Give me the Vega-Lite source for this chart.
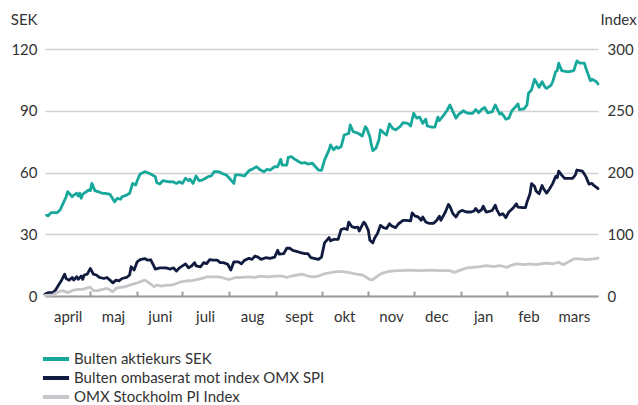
{
"$schema": "https://vega.github.io/schema/vega-lite/v6.json",
"width": 553, "height": 247,
"autosize": {"type": "none"},
"padding": {"left": 45, "top": 49, "right": 40, "bottom": 109},
"config": {"view": {"stroke": null}, "font": "Lato",
  "axis": {"labelFont": "Lato", "labelColor": "#333333", "labelFontSize": 15, "titleFont": "Lato", "titleColor": "#333333", "titleFontSize": 15, "titleFontWeight": "normal"},
  "legend": {"labelFont": "Lato", "labelColor": "#333333", "labelFontSize": 15, "labelLimit": 0}},
"data": {"values": [
{"d":"2023-04-02","s":"Bulten aktiekurs SEK","v":39.3},{"d":"2023-04-03","s":"Bulten aktiekurs SEK","v":38.9},{"d":"2023-04-05","s":"Bulten aktiekurs SEK","v":40.5},{"d":"2023-04-09","s":"Bulten aktiekurs SEK","v":40.5},{"d":"2023-04-11","s":"Bulten aktiekurs SEK","v":41.8},{"d":"2023-04-13","s":"Bulten aktiekurs SEK","v":45},{"d":"2023-04-15","s":"Bulten aktiekurs SEK","v":48.2},{"d":"2023-04-16","s":"Bulten aktiekurs SEK","v":50.7},{"d":"2023-04-19","s":"Bulten aktiekurs SEK","v":48.2},{"d":"2023-04-20","s":"Bulten aktiekurs SEK","v":49},{"d":"2023-04-22","s":"Bulten aktiekurs SEK","v":49.9},{"d":"2023-04-23","s":"Bulten aktiekurs SEK","v":48.6},{"d":"2023-04-24","s":"Bulten aktiekurs SEK","v":49.9},{"d":"2023-04-25","s":"Bulten aktiekurs SEK","v":47.5},{"d":"2023-04-26","s":"Bulten aktiekurs SEK","v":49.5},{"d":"2023-04-30","s":"Bulten aktiekurs SEK","v":51.5},
{"d":"2023-05-01","s":"Bulten aktiekurs SEK","v":51.2},{"d":"2023-05-02","s":"Bulten aktiekurs SEK","v":54.7},{"d":"2023-05-04","s":"Bulten aktiekurs SEK","v":51.2},{"d":"2023-05-06","s":"Bulten aktiekurs SEK","v":50.7},{"d":"2023-05-09","s":"Bulten aktiekurs SEK","v":49.9},{"d":"2023-05-11","s":"Bulten aktiekurs SEK","v":49.9},{"d":"2023-05-14","s":"Bulten aktiekurs SEK","v":49.4},{"d":"2023-05-17","s":"Bulten aktiekurs SEK","v":45.8},{"d":"2023-05-19","s":"Bulten aktiekurs SEK","v":47.5},{"d":"2023-05-21","s":"Bulten aktiekurs SEK","v":47},{"d":"2023-05-22","s":"Bulten aktiekurs SEK","v":48.2},{"d":"2023-05-25","s":"Bulten aktiekurs SEK","v":49},{"d":"2023-05-27","s":"Bulten aktiekurs SEK","v":49.9},{"d":"2023-05-29","s":"Bulten aktiekurs SEK","v":54.7},{"d":"2023-05-31","s":"Bulten aktiekurs SEK","v":53.9},
{"d":"2023-06-01","s":"Bulten aktiekurs SEK","v":56},{"d":"2023-06-03","s":"Bulten aktiekurs SEK","v":59.3},{"d":"2023-06-06","s":"Bulten aktiekurs SEK","v":60.4},{"d":"2023-06-08","s":"Bulten aktiekurs SEK","v":59.9},{"d":"2023-06-09","s":"Bulten aktiekurs SEK","v":59.6},{"d":"2023-06-13","s":"Bulten aktiekurs SEK","v":58},{"d":"2023-06-14","s":"Bulten aktiekurs SEK","v":55},{"d":"2023-06-16","s":"Bulten aktiekurs SEK","v":54.4},{"d":"2023-06-18","s":"Bulten aktiekurs SEK","v":56},{"d":"2023-06-22","s":"Bulten aktiekurs SEK","v":55.5},{"d":"2023-06-25","s":"Bulten aktiekurs SEK","v":55.4},{"d":"2023-06-27","s":"Bulten aktiekurs SEK","v":54.7},{"d":"2023-06-29","s":"Bulten aktiekurs SEK","v":55.5},
{"d":"2023-07-01","s":"Bulten aktiekurs SEK","v":54.7},{"d":"2023-07-03","s":"Bulten aktiekurs SEK","v":57.2},{"d":"2023-07-05","s":"Bulten aktiekurs SEK","v":56},{"d":"2023-07-06","s":"Bulten aktiekurs SEK","v":56.7},{"d":"2023-07-08","s":"Bulten aktiekurs SEK","v":54.7},{"d":"2023-07-10","s":"Bulten aktiekurs SEK","v":58.3},{"d":"2023-07-12","s":"Bulten aktiekurs SEK","v":56},{"d":"2023-07-14","s":"Bulten aktiekurs SEK","v":56.3},{"d":"2023-07-16","s":"Bulten aktiekurs SEK","v":57.1},{"d":"2023-07-18","s":"Bulten aktiekurs SEK","v":58},{"d":"2023-07-20","s":"Bulten aktiekurs SEK","v":58.3},{"d":"2023-07-22","s":"Bulten aktiekurs SEK","v":60.4},{"d":"2023-07-25","s":"Bulten aktiekurs SEK","v":60.4},{"d":"2023-07-27","s":"Bulten aktiekurs SEK","v":59.6},{"d":"2023-07-30","s":"Bulten aktiekurs SEK","v":58.8},
{"d":"2023-08-01","s":"Bulten aktiekurs SEK","v":57.2},{"d":"2023-08-04","s":"Bulten aktiekurs SEK","v":54.7},{"d":"2023-08-05","s":"Bulten aktiekurs SEK","v":58.8},{"d":"2023-08-08","s":"Bulten aktiekurs SEK","v":58.8},{"d":"2023-08-11","s":"Bulten aktiekurs SEK","v":58.3},{"d":"2023-08-14","s":"Bulten aktiekurs SEK","v":60.9},{"d":"2023-08-16","s":"Bulten aktiekurs SEK","v":61.5},{"d":"2023-08-19","s":"Bulten aktiekurs SEK","v":62.8},{"d":"2023-08-21","s":"Bulten aktiekurs SEK","v":61.5},{"d":"2023-08-24","s":"Bulten aktiekurs SEK","v":60.4},{"d":"2023-08-26","s":"Bulten aktiekurs SEK","v":61.5},{"d":"2023-08-28","s":"Bulten aktiekurs SEK","v":61.2},{"d":"2023-08-31","s":"Bulten aktiekurs SEK","v":62.8},
{"d":"2023-09-02","s":"Bulten aktiekurs SEK","v":62.8},{"d":"2023-09-04","s":"Bulten aktiekurs SEK","v":66.4},{"d":"2023-09-05","s":"Bulten aktiekurs SEK","v":63.6},{"d":"2023-09-08","s":"Bulten aktiekurs SEK","v":63.6},{"d":"2023-09-09","s":"Bulten aktiekurs SEK","v":67.4},{"d":"2023-09-11","s":"Bulten aktiekurs SEK","v":67.7},{"d":"2023-09-13","s":"Bulten aktiekurs SEK","v":66.6},{"d":"2023-09-16","s":"Bulten aktiekurs SEK","v":65.2},{"d":"2023-09-18","s":"Bulten aktiekurs SEK","v":64.5},{"d":"2023-09-20","s":"Bulten aktiekurs SEK","v":64.8},{"d":"2023-09-22","s":"Bulten aktiekurs SEK","v":64.1},{"d":"2023-09-25","s":"Bulten aktiekurs SEK","v":64.5},{"d":"2023-09-27","s":"Bulten aktiekurs SEK","v":62.8},{"d":"2023-09-29","s":"Bulten aktiekurs SEK","v":61.2},
{"d":"2023-10-01","s":"Bulten aktiekurs SEK","v":61},{"d":"2023-10-03","s":"Bulten aktiekurs SEK","v":66},{"d":"2023-10-06","s":"Bulten aktiekurs SEK","v":71},{"d":"2023-10-07","s":"Bulten aktiekurs SEK","v":73.4},{"d":"2023-10-09","s":"Bulten aktiekurs SEK","v":71},{"d":"2023-10-11","s":"Bulten aktiekurs SEK","v":72.5},{"d":"2023-10-12","s":"Bulten aktiekurs SEK","v":71.8},{"d":"2023-10-14","s":"Bulten aktiekurs SEK","v":72.5},{"d":"2023-10-16","s":"Bulten aktiekurs SEK","v":78.2},{"d":"2023-10-19","s":"Bulten aktiekurs SEK","v":79},{"d":"2023-10-20","s":"Bulten aktiekurs SEK","v":83.1},{"d":"2023-10-22","s":"Bulten aktiekurs SEK","v":79.8},{"d":"2023-10-24","s":"Bulten aktiekurs SEK","v":79.4},{"d":"2023-10-26","s":"Bulten aktiekurs SEK","v":78.7},{"d":"2023-10-28","s":"Bulten aktiekurs SEK","v":77.7},{"d":"2023-10-30","s":"Bulten aktiekurs SEK","v":82.2},{"d":"2023-10-31","s":"Bulten aktiekurs SEK","v":81.4},
{"d":"2023-11-02","s":"Bulten aktiekurs SEK","v":77.4},{"d":"2023-11-03","s":"Bulten aktiekurs SEK","v":73.4},{"d":"2023-11-04","s":"Bulten aktiekurs SEK","v":70.6},{"d":"2023-11-06","s":"Bulten aktiekurs SEK","v":71.8},{"d":"2023-11-08","s":"Bulten aktiekurs SEK","v":75.8},{"d":"2023-11-09","s":"Bulten aktiekurs SEK","v":80.7},{"d":"2023-11-11","s":"Bulten aktiekurs SEK","v":79.4},{"d":"2023-11-13","s":"Bulten aktiekurs SEK","v":78.2},{"d":"2023-11-15","s":"Bulten aktiekurs SEK","v":83.6},{"d":"2023-11-17","s":"Bulten aktiekurs SEK","v":81.5},{"d":"2023-11-19","s":"Bulten aktiekurs SEK","v":80.7},{"d":"2023-11-22","s":"Bulten aktiekurs SEK","v":82.3},{"d":"2023-11-24","s":"Bulten aktiekurs SEK","v":84.2},{"d":"2023-11-27","s":"Bulten aktiekurs SEK","v":83.9},{"d":"2023-11-29","s":"Bulten aktiekurs SEK","v":82.6},
{"d":"2023-12-01","s":"Bulten aktiekurs SEK","v":88.8},{"d":"2023-12-03","s":"Bulten aktiekurs SEK","v":86.4},{"d":"2023-12-05","s":"Bulten aktiekurs SEK","v":86.9},{"d":"2023-12-07","s":"Bulten aktiekurs SEK","v":83.9},{"d":"2023-12-09","s":"Bulten aktiekurs SEK","v":85.9},{"d":"2023-12-10","s":"Bulten aktiekurs SEK","v":82.6},{"d":"2023-12-13","s":"Bulten aktiekurs SEK","v":82},{"d":"2023-12-15","s":"Bulten aktiekurs SEK","v":82},{"d":"2023-12-17","s":"Bulten aktiekurs SEK","v":86.9},{"d":"2023-12-18","s":"Bulten aktiekurs SEK","v":85.2},{"d":"2023-12-21","s":"Bulten aktiekurs SEK","v":88},{"d":"2023-12-23","s":"Bulten aktiekurs SEK","v":90},{"d":"2023-12-25","s":"Bulten aktiekurs SEK","v":92.8},{"d":"2023-12-27","s":"Bulten aktiekurs SEK","v":89.6},{"d":"2023-12-29","s":"Bulten aktiekurs SEK","v":86.4},{"d":"2023-12-31","s":"Bulten aktiekurs SEK","v":88.4},
{"d":"2024-01-03","s":"Bulten aktiekurs SEK","v":90},{"d":"2024-01-05","s":"Bulten aktiekurs SEK","v":89},{"d":"2024-01-07","s":"Bulten aktiekurs SEK","v":88.7},{"d":"2024-01-09","s":"Bulten aktiekurs SEK","v":88.7},{"d":"2024-01-11","s":"Bulten aktiekurs SEK","v":90.6},{"d":"2024-01-13","s":"Bulten aktiekurs SEK","v":89},{"d":"2024-01-15","s":"Bulten aktiekurs SEK","v":90.6},{"d":"2024-01-17","s":"Bulten aktiekurs SEK","v":91.6},{"d":"2024-01-19","s":"Bulten aktiekurs SEK","v":89},{"d":"2024-01-22","s":"Bulten aktiekurs SEK","v":89.6},{"d":"2024-01-24","s":"Bulten aktiekurs SEK","v":92.8},{"d":"2024-01-27","s":"Bulten aktiekurs SEK","v":88.4},{"d":"2024-01-28","s":"Bulten aktiekurs SEK","v":89},{"d":"2024-01-30","s":"Bulten aktiekurs SEK","v":87.1},{"d":"2024-01-31","s":"Bulten aktiekurs SEK","v":85.9},
{"d":"2024-02-02","s":"Bulten aktiekurs SEK","v":86.4},{"d":"2024-02-04","s":"Bulten aktiekurs SEK","v":90},{"d":"2024-02-06","s":"Bulten aktiekurs SEK","v":91.6},{"d":"2024-02-08","s":"Bulten aktiekurs SEK","v":93.3},{"d":"2024-02-09","s":"Bulten aktiekurs SEK","v":90.6},{"d":"2024-02-12","s":"Bulten aktiekurs SEK","v":90.9},{"d":"2024-02-14","s":"Bulten aktiekurs SEK","v":92.8},{"d":"2024-02-15","s":"Bulten aktiekurs SEK","v":98.5},{"d":"2024-02-17","s":"Bulten aktiekurs SEK","v":100.1},{"d":"2024-02-19","s":"Bulten aktiekurs SEK","v":105.3},{"d":"2024-02-20","s":"Bulten aktiekurs SEK","v":104.1},{"d":"2024-02-22","s":"Bulten aktiekurs SEK","v":101.4},{"d":"2024-02-24","s":"Bulten aktiekurs SEK","v":104.1},{"d":"2024-02-26","s":"Bulten aktiekurs SEK","v":101.4},{"d":"2024-02-27","s":"Bulten aktiekurs SEK","v":100.9},
{"d":"2024-03-01","s":"Bulten aktiekurs SEK","v":102.5},{"d":"2024-03-02","s":"Bulten aktiekurs SEK","v":104.1},{"d":"2024-03-04","s":"Bulten aktiekurs SEK","v":109},{"d":"2024-03-05","s":"Bulten aktiekurs SEK","v":109.5},{"d":"2024-03-06","s":"Bulten aktiekurs SEK","v":113.1},{"d":"2024-03-08","s":"Bulten aktiekurs SEK","v":109.5},{"d":"2024-03-11","s":"Bulten aktiekurs SEK","v":109},{"d":"2024-03-13","s":"Bulten aktiekurs SEK","v":109},{"d":"2024-03-16","s":"Bulten aktiekurs SEK","v":109.5},{"d":"2024-03-18","s":"Bulten aktiekurs SEK","v":114.2},{"d":"2024-03-20","s":"Bulten aktiekurs SEK","v":113.1},{"d":"2024-03-23","s":"Bulten aktiekurs SEK","v":113.1},{"d":"2024-03-24","s":"Bulten aktiekurs SEK","v":110.6},{"d":"2024-03-27","s":"Bulten aktiekurs SEK","v":104.6},{"d":"2024-03-28","s":"Bulten aktiekurs SEK","v":105.3},{"d":"2024-03-31","s":"Bulten aktiekurs SEK","v":104.1},{"d":"2024-04-01","s":"Bulten aktiekurs SEK","v":103},

{"d":"2023-04-01","s":"Bulten ombaserat mot index OMX SPI","v":0.8},{"d":"2023-04-03","s":"Bulten ombaserat mot index OMX SPI","v":1.6},{"d":"2023-04-06","s":"Bulten ombaserat mot index OMX SPI","v":1.6},{"d":"2023-04-08","s":"Bulten ombaserat mot index OMX SPI","v":2.9},{"d":"2023-04-10","s":"Bulten ombaserat mot index OMX SPI","v":5.3},{"d":"2023-04-12","s":"Bulten ombaserat mot index OMX SPI","v":7.7},{"d":"2023-04-14","s":"Bulten ombaserat mot index OMX SPI","v":10.6},{"d":"2023-04-15","s":"Bulten ombaserat mot index OMX SPI","v":8.5},{"d":"2023-04-17","s":"Bulten ombaserat mot index OMX SPI","v":7.7},{"d":"2023-04-19","s":"Bulten ombaserat mot index OMX SPI","v":9},{"d":"2023-04-20","s":"Bulten ombaserat mot index OMX SPI","v":7.7},{"d":"2023-04-22","s":"Bulten ombaserat mot index OMX SPI","v":9.4},{"d":"2023-04-23","s":"Bulten ombaserat mot index OMX SPI","v":8.1},{"d":"2023-04-25","s":"Bulten ombaserat mot index OMX SPI","v":9.7},{"d":"2023-04-26","s":"Bulten ombaserat mot index OMX SPI","v":8.1},{"d":"2023-04-27","s":"Bulten ombaserat mot index OMX SPI","v":10.2},{"d":"2023-04-29","s":"Bulten ombaserat mot index OMX SPI","v":10.6},
{"d":"2023-05-01","s":"Bulten ombaserat mot index OMX SPI","v":13.4},{"d":"2023-05-03","s":"Bulten ombaserat mot index OMX SPI","v":10.6},{"d":"2023-05-05","s":"Bulten ombaserat mot index OMX SPI","v":10.2},{"d":"2023-05-07","s":"Bulten ombaserat mot index OMX SPI","v":9},{"d":"2023-05-10","s":"Bulten ombaserat mot index OMX SPI","v":8.5},{"d":"2023-05-12","s":"Bulten ombaserat mot index OMX SPI","v":9},{"d":"2023-05-14","s":"Bulten ombaserat mot index OMX SPI","v":7.7},{"d":"2023-05-16","s":"Bulten ombaserat mot index OMX SPI","v":6.4},{"d":"2023-05-18","s":"Bulten ombaserat mot index OMX SPI","v":7.7},{"d":"2023-05-20","s":"Bulten ombaserat mot index OMX SPI","v":7.4},{"d":"2023-05-22","s":"Bulten ombaserat mot index OMX SPI","v":8.5},{"d":"2023-05-25","s":"Bulten ombaserat mot index OMX SPI","v":9},{"d":"2023-05-27","s":"Bulten ombaserat mot index OMX SPI","v":10.2},{"d":"2023-05-28","s":"Bulten ombaserat mot index OMX SPI","v":14.2},{"d":"2023-05-30","s":"Bulten ombaserat mot index OMX SPI","v":12.6},
{"d":"2023-06-01","s":"Bulten ombaserat mot index OMX SPI","v":16.6},{"d":"2023-06-03","s":"Bulten ombaserat mot index OMX SPI","v":17.7},{"d":"2023-06-06","s":"Bulten ombaserat mot index OMX SPI","v":18.2},{"d":"2023-06-08","s":"Bulten ombaserat mot index OMX SPI","v":17.4},{"d":"2023-06-10","s":"Bulten ombaserat mot index OMX SPI","v":17.6},{"d":"2023-06-12","s":"Bulten ombaserat mot index OMX SPI","v":14.6},{"d":"2023-06-13","s":"Bulten ombaserat mot index OMX SPI","v":13.1},{"d":"2023-06-16","s":"Bulten ombaserat mot index OMX SPI","v":13.7},{"d":"2023-06-18","s":"Bulten ombaserat mot index OMX SPI","v":13.7},{"d":"2023-06-20","s":"Bulten ombaserat mot index OMX SPI","v":13.7},{"d":"2023-06-23","s":"Bulten ombaserat mot index OMX SPI","v":13.1},{"d":"2023-06-25","s":"Bulten ombaserat mot index OMX SPI","v":13.7},{"d":"2023-06-27","s":"Bulten ombaserat mot index OMX SPI","v":12.1},{"d":"2023-06-29","s":"Bulten ombaserat mot index OMX SPI","v":13.7},
{"d":"2023-07-03","s":"Bulten ombaserat mot index OMX SPI","v":15.6},{"d":"2023-07-05","s":"Bulten ombaserat mot index OMX SPI","v":13.7},{"d":"2023-07-07","s":"Bulten ombaserat mot index OMX SPI","v":14.6},{"d":"2023-07-09","s":"Bulten ombaserat mot index OMX SPI","v":16.2},{"d":"2023-07-10","s":"Bulten ombaserat mot index OMX SPI","v":14.6},{"d":"2023-07-13","s":"Bulten ombaserat mot index OMX SPI","v":14.2},{"d":"2023-07-15","s":"Bulten ombaserat mot index OMX SPI","v":16.2},{"d":"2023-07-17","s":"Bulten ombaserat mot index OMX SPI","v":15.7},{"d":"2023-07-19","s":"Bulten ombaserat mot index OMX SPI","v":17.7},{"d":"2023-07-21","s":"Bulten ombaserat mot index OMX SPI","v":17.4},{"d":"2023-07-24","s":"Bulten ombaserat mot index OMX SPI","v":17.4},{"d":"2023-07-26","s":"Bulten ombaserat mot index OMX SPI","v":16.2},{"d":"2023-07-28","s":"Bulten ombaserat mot index OMX SPI","v":16.2},{"d":"2023-07-31","s":"Bulten ombaserat mot index OMX SPI","v":15.4},
{"d":"2023-08-02","s":"Bulten ombaserat mot index OMX SPI","v":12.6},{"d":"2023-08-04","s":"Bulten ombaserat mot index OMX SPI","v":16.6},{"d":"2023-08-07","s":"Bulten ombaserat mot index OMX SPI","v":16.6},{"d":"2023-08-09","s":"Bulten ombaserat mot index OMX SPI","v":15.6},{"d":"2023-08-11","s":"Bulten ombaserat mot index OMX SPI","v":17.3},{"d":"2023-08-14","s":"Bulten ombaserat mot index OMX SPI","v":18.3},{"d":"2023-08-16","s":"Bulten ombaserat mot index OMX SPI","v":17.8},{"d":"2023-08-18","s":"Bulten ombaserat mot index OMX SPI","v":19.4},{"d":"2023-08-20","s":"Bulten ombaserat mot index OMX SPI","v":18.9},{"d":"2023-08-22","s":"Bulten ombaserat mot index OMX SPI","v":17.8},{"d":"2023-08-25","s":"Bulten ombaserat mot index OMX SPI","v":18.6},{"d":"2023-08-28","s":"Bulten ombaserat mot index OMX SPI","v":18.3},{"d":"2023-08-31","s":"Bulten ombaserat mot index OMX SPI","v":18.9},
{"d":"2023-09-02","s":"Bulten ombaserat mot index OMX SPI","v":22.2},{"d":"2023-09-03","s":"Bulten ombaserat mot index OMX SPI","v":20.3},{"d":"2023-09-06","s":"Bulten ombaserat mot index OMX SPI","v":20.6},{"d":"2023-09-08","s":"Bulten ombaserat mot index OMX SPI","v":23.2},{"d":"2023-09-10","s":"Bulten ombaserat mot index OMX SPI","v":23.2},{"d":"2023-09-12","s":"Bulten ombaserat mot index OMX SPI","v":22.2},{"d":"2023-09-15","s":"Bulten ombaserat mot index OMX SPI","v":21.6},{"d":"2023-09-17","s":"Bulten ombaserat mot index OMX SPI","v":21.1},{"d":"2023-09-20","s":"Bulten ombaserat mot index OMX SPI","v":20.6},{"d":"2023-09-22","s":"Bulten ombaserat mot index OMX SPI","v":20.6},{"d":"2023-09-24","s":"Bulten ombaserat mot index OMX SPI","v":18.6},{"d":"2023-09-26","s":"Bulten ombaserat mot index OMX SPI","v":18.3},{"d":"2023-09-29","s":"Bulten ombaserat mot index OMX SPI","v":17.8},
{"d":"2023-10-01","s":"Bulten ombaserat mot index OMX SPI","v":18.9},{"d":"2023-10-03","s":"Bulten ombaserat mot index OMX SPI","v":25.8},{"d":"2023-10-06","s":"Bulten ombaserat mot index OMX SPI","v":28.4},{"d":"2023-10-07","s":"Bulten ombaserat mot index OMX SPI","v":26.8},{"d":"2023-10-09","s":"Bulten ombaserat mot index OMX SPI","v":27.5},{"d":"2023-10-12","s":"Bulten ombaserat mot index OMX SPI","v":27.5},{"d":"2023-10-14","s":"Bulten ombaserat mot index OMX SPI","v":32.3},{"d":"2023-10-16","s":"Bulten ombaserat mot index OMX SPI","v":32.8},{"d":"2023-10-18","s":"Bulten ombaserat mot index OMX SPI","v":32.3},{"d":"2023-10-19","s":"Bulten ombaserat mot index OMX SPI","v":35.9},{"d":"2023-10-21","s":"Bulten ombaserat mot index OMX SPI","v":33.8},{"d":"2023-10-23","s":"Bulten ombaserat mot index OMX SPI","v":33.2},{"d":"2023-10-25","s":"Bulten ombaserat mot index OMX SPI","v":33.5},{"d":"2023-10-26","s":"Bulten ombaserat mot index OMX SPI","v":31.6},{"d":"2023-10-29","s":"Bulten ombaserat mot index OMX SPI","v":35.9},{"d":"2023-10-30","s":"Bulten ombaserat mot index OMX SPI","v":35.1},
{"d":"2023-11-01","s":"Bulten ombaserat mot index OMX SPI","v":31.9},{"d":"2023-11-02","s":"Bulten ombaserat mot index OMX SPI","v":27.1},{"d":"2023-11-04","s":"Bulten ombaserat mot index OMX SPI","v":25.8},{"d":"2023-11-05","s":"Bulten ombaserat mot index OMX SPI","v":27.9},{"d":"2023-11-07","s":"Bulten ombaserat mot index OMX SPI","v":30.3},{"d":"2023-11-09","s":"Bulten ombaserat mot index OMX SPI","v":34.3},{"d":"2023-11-11","s":"Bulten ombaserat mot index OMX SPI","v":33.2},{"d":"2023-11-13","s":"Bulten ombaserat mot index OMX SPI","v":32.8},{"d":"2023-11-15","s":"Bulten ombaserat mot index OMX SPI","v":35.1},{"d":"2023-11-16","s":"Bulten ombaserat mot index OMX SPI","v":34.3},{"d":"2023-11-19","s":"Bulten ombaserat mot index OMX SPI","v":33.2},{"d":"2023-11-21","s":"Bulten ombaserat mot index OMX SPI","v":35.1},{"d":"2023-11-24","s":"Bulten ombaserat mot index OMX SPI","v":36.7},{"d":"2023-11-26","s":"Bulten ombaserat mot index OMX SPI","v":36.7},{"d":"2023-11-29","s":"Bulten ombaserat mot index OMX SPI","v":36.5},{"d":"2023-11-30","s":"Bulten ombaserat mot index OMX SPI","v":40.4},
{"d":"2023-12-02","s":"Bulten ombaserat mot index OMX SPI","v":38.8},{"d":"2023-12-04","s":"Bulten ombaserat mot index OMX SPI","v":38.4},{"d":"2023-12-06","s":"Bulten ombaserat mot index OMX SPI","v":36.8},{"d":"2023-12-07","s":"Bulten ombaserat mot index OMX SPI","v":38.4},{"d":"2023-12-09","s":"Bulten ombaserat mot index OMX SPI","v":36},{"d":"2023-12-11","s":"Bulten ombaserat mot index OMX SPI","v":35.3},{"d":"2023-12-14","s":"Bulten ombaserat mot index OMX SPI","v":35.3},{"d":"2023-12-16","s":"Bulten ombaserat mot index OMX SPI","v":36.5},{"d":"2023-12-18","s":"Bulten ombaserat mot index OMX SPI","v":38.8},{"d":"2023-12-19","s":"Bulten ombaserat mot index OMX SPI","v":36.8},{"d":"2023-12-22","s":"Bulten ombaserat mot index OMX SPI","v":40.8},{"d":"2023-12-24","s":"Bulten ombaserat mot index OMX SPI","v":44.5},{"d":"2023-12-25","s":"Bulten ombaserat mot index OMX SPI","v":43.5},{"d":"2023-12-27","s":"Bulten ombaserat mot index OMX SPI","v":40},{"d":"2023-12-29","s":"Bulten ombaserat mot index OMX SPI","v":38.4},{"d":"2023-12-31","s":"Bulten ombaserat mot index OMX SPI","v":40.8},
{"d":"2024-01-02","s":"Bulten ombaserat mot index OMX SPI","v":41.6},{"d":"2024-01-05","s":"Bulten ombaserat mot index OMX SPI","v":40.8},{"d":"2024-01-08","s":"Bulten ombaserat mot index OMX SPI","v":40.8},{"d":"2024-01-10","s":"Bulten ombaserat mot index OMX SPI","v":41.3},{"d":"2024-01-11","s":"Bulten ombaserat mot index OMX SPI","v":42.5},{"d":"2024-01-13","s":"Bulten ombaserat mot index OMX SPI","v":40.8},{"d":"2024-01-15","s":"Bulten ombaserat mot index OMX SPI","v":42},{"d":"2024-01-16","s":"Bulten ombaserat mot index OMX SPI","v":43.6},{"d":"2024-01-18","s":"Bulten ombaserat mot index OMX SPI","v":40.8},{"d":"2024-01-21","s":"Bulten ombaserat mot index OMX SPI","v":41.3},{"d":"2024-01-22","s":"Bulten ombaserat mot index OMX SPI","v":41.6},{"d":"2024-01-24","s":"Bulten ombaserat mot index OMX SPI","v":44.1},{"d":"2024-01-25","s":"Bulten ombaserat mot index OMX SPI","v":42},{"d":"2024-01-27","s":"Bulten ombaserat mot index OMX SPI","v":39.3},{"d":"2024-01-29","s":"Bulten ombaserat mot index OMX SPI","v":40},{"d":"2024-01-31","s":"Bulten ombaserat mot index OMX SPI","v":38.1},
{"d":"2024-02-02","s":"Bulten ombaserat mot index OMX SPI","v":40.8},{"d":"2024-02-05","s":"Bulten ombaserat mot index OMX SPI","v":42.9},{"d":"2024-02-07","s":"Bulten ombaserat mot index OMX SPI","v":44.8},{"d":"2024-02-08","s":"Bulten ombaserat mot index OMX SPI","v":43.2},{"d":"2024-02-11","s":"Bulten ombaserat mot index OMX SPI","v":42.9},{"d":"2024-02-13","s":"Bulten ombaserat mot index OMX SPI","v":42.9},{"d":"2024-02-14","s":"Bulten ombaserat mot index OMX SPI","v":45.6},{"d":"2024-02-16","s":"Bulten ombaserat mot index OMX SPI","v":49.7},{"d":"2024-02-17","s":"Bulten ombaserat mot index OMX SPI","v":54.6},{"d":"2024-02-19","s":"Bulten ombaserat mot index OMX SPI","v":53.3},{"d":"2024-02-20","s":"Bulten ombaserat mot index OMX SPI","v":51},{"d":"2024-02-22","s":"Bulten ombaserat mot index OMX SPI","v":49.7},{"d":"2024-02-24","s":"Bulten ombaserat mot index OMX SPI","v":53.7},{"d":"2024-02-25","s":"Bulten ombaserat mot index OMX SPI","v":52.1},{"d":"2024-02-27","s":"Bulten ombaserat mot index OMX SPI","v":50},{"d":"2024-02-29","s":"Bulten ombaserat mot index OMX SPI","v":52.1},
{"d":"2024-03-02","s":"Bulten ombaserat mot index OMX SPI","v":54.6},{"d":"2024-03-04","s":"Bulten ombaserat mot index OMX SPI","v":58.1},{"d":"2024-03-05","s":"Bulten ombaserat mot index OMX SPI","v":57.5},{"d":"2024-03-06","s":"Bulten ombaserat mot index OMX SPI","v":60.7},{"d":"2024-03-08","s":"Bulten ombaserat mot index OMX SPI","v":58.7},{"d":"2024-03-10","s":"Bulten ombaserat mot index OMX SPI","v":57.1},{"d":"2024-03-12","s":"Bulten ombaserat mot index OMX SPI","v":57.1},{"d":"2024-03-15","s":"Bulten ombaserat mot index OMX SPI","v":57.1},{"d":"2024-03-17","s":"Bulten ombaserat mot index OMX SPI","v":58.7},{"d":"2024-03-18","s":"Bulten ombaserat mot index OMX SPI","v":61.2},{"d":"2024-03-21","s":"Bulten ombaserat mot index OMX SPI","v":60.8},{"d":"2024-03-22","s":"Bulten ombaserat mot index OMX SPI","v":60.4},{"d":"2024-03-24","s":"Bulten ombaserat mot index OMX SPI","v":58},{"d":"2024-03-26","s":"Bulten ombaserat mot index OMX SPI","v":54.4},{"d":"2024-03-28","s":"Bulten ombaserat mot index OMX SPI","v":54.7},{"d":"2024-03-29","s":"Bulten ombaserat mot index OMX SPI","v":53.9},{"d":"2024-03-31","s":"Bulten ombaserat mot index OMX SPI","v":52.8},{"d":"2024-04-01","s":"Bulten ombaserat mot index OMX SPI","v":52.2},

{"d":"2023-04-01","s":"OMX Stockholm PI Index","v":0.3},{"d":"2023-04-06","s":"OMX Stockholm PI Index","v":0.5},{"d":"2023-04-10","s":"OMX Stockholm PI Index","v":2.1},{"d":"2023-04-13","s":"OMX Stockholm PI Index","v":2.6},{"d":"2023-04-16","s":"OMX Stockholm PI Index","v":1.6},{"d":"2023-04-20","s":"OMX Stockholm PI Index","v":2.9},{"d":"2023-04-23","s":"OMX Stockholm PI Index","v":3.2},{"d":"2023-04-26","s":"OMX Stockholm PI Index","v":3.2},{"d":"2023-04-30","s":"OMX Stockholm PI Index","v":4.2},{"d":"2023-05-01","s":"OMX Stockholm PI Index","v":4.2},{"d":"2023-05-03","s":"OMX Stockholm PI Index","v":2.6},{"d":"2023-05-06","s":"OMX Stockholm PI Index","v":2.6},{"d":"2023-05-09","s":"OMX Stockholm PI Index","v":3.2},{"d":"2023-05-12","s":"OMX Stockholm PI Index","v":3.7},{"d":"2023-05-14","s":"OMX Stockholm PI Index","v":2.9},{"d":"2023-05-16","s":"OMX Stockholm PI Index","v":2.1},{"d":"2023-05-18","s":"OMX Stockholm PI Index","v":3.7},{"d":"2023-05-21","s":"OMX Stockholm PI Index","v":4.2},{"d":"2023-05-24","s":"OMX Stockholm PI Index","v":4.5},{"d":"2023-05-27","s":"OMX Stockholm PI Index","v":5.3},{"d":"2023-05-31","s":"OMX Stockholm PI Index","v":6.1},
{"d":"2023-06-03","s":"OMX Stockholm PI Index","v":6.9},{"d":"2023-06-06","s":"OMX Stockholm PI Index","v":7.7},{"d":"2023-06-08","s":"OMX Stockholm PI Index","v":6.9},{"d":"2023-06-10","s":"OMX Stockholm PI Index","v":5.8},{"d":"2023-06-12","s":"OMX Stockholm PI Index","v":4.5},{"d":"2023-06-14","s":"OMX Stockholm PI Index","v":5.3},{"d":"2023-06-17","s":"OMX Stockholm PI Index","v":4.8},{"d":"2023-06-21","s":"OMX Stockholm PI Index","v":5.3},{"d":"2023-06-24","s":"OMX Stockholm PI Index","v":5.3},{"d":"2023-06-27","s":"OMX Stockholm PI Index","v":6.1},{"d":"2023-06-30","s":"OMX Stockholm PI Index","v":6.9},
{"d":"2023-07-04","s":"OMX Stockholm PI Index","v":7.4},{"d":"2023-07-07","s":"OMX Stockholm PI Index","v":7.4},{"d":"2023-07-10","s":"OMX Stockholm PI Index","v":8},{"d":"2023-07-14","s":"OMX Stockholm PI Index","v":8.5},{"d":"2023-07-17","s":"OMX Stockholm PI Index","v":9.3},{"d":"2023-07-20","s":"OMX Stockholm PI Index","v":9.3},{"d":"2023-07-24","s":"OMX Stockholm PI Index","v":9.3},{"d":"2023-07-27","s":"OMX Stockholm PI Index","v":9},{"d":"2023-07-29","s":"OMX Stockholm PI Index","v":8.5},
{"d":"2023-08-01","s":"OMX Stockholm PI Index","v":8},{"d":"2023-08-05","s":"OMX Stockholm PI Index","v":9},{"d":"2023-08-09","s":"OMX Stockholm PI Index","v":9},{"d":"2023-08-14","s":"OMX Stockholm PI Index","v":9.3},{"d":"2023-08-18","s":"OMX Stockholm PI Index","v":9},{"d":"2023-08-22","s":"OMX Stockholm PI Index","v":9.7},{"d":"2023-08-27","s":"OMX Stockholm PI Index","v":9.3},{"d":"2023-08-31","s":"OMX Stockholm PI Index","v":9.7},
{"d":"2023-09-05","s":"OMX Stockholm PI Index","v":9.7},{"d":"2023-09-08","s":"OMX Stockholm PI Index","v":9},{"d":"2023-09-11","s":"OMX Stockholm PI Index","v":9.7},{"d":"2023-09-15","s":"OMX Stockholm PI Index","v":10.2},{"d":"2023-09-18","s":"OMX Stockholm PI Index","v":10.6},{"d":"2023-09-22","s":"OMX Stockholm PI Index","v":9.7},{"d":"2023-09-26","s":"OMX Stockholm PI Index","v":9.3},{"d":"2023-09-29","s":"OMX Stockholm PI Index","v":9.7},
{"d":"2023-10-02","s":"OMX Stockholm PI Index","v":10.6},{"d":"2023-10-07","s":"OMX Stockholm PI Index","v":11.3},{"d":"2023-10-11","s":"OMX Stockholm PI Index","v":11.8},{"d":"2023-10-15","s":"OMX Stockholm PI Index","v":11.8},{"d":"2023-10-20","s":"OMX Stockholm PI Index","v":11.3},{"d":"2023-10-24","s":"OMX Stockholm PI Index","v":10.6},{"d":"2023-10-28","s":"OMX Stockholm PI Index","v":10.2},{"d":"2023-10-31","s":"OMX Stockholm PI Index","v":9},
{"d":"2023-11-02","s":"OMX Stockholm PI Index","v":8},{"d":"2023-11-04","s":"OMX Stockholm PI Index","v":8},{"d":"2023-11-07","s":"OMX Stockholm PI Index","v":9.7},{"d":"2023-11-10","s":"OMX Stockholm PI Index","v":11},{"d":"2023-11-14","s":"OMX Stockholm PI Index","v":11.8},{"d":"2023-11-19","s":"OMX Stockholm PI Index","v":12.3},{"d":"2023-11-23","s":"OMX Stockholm PI Index","v":12.3},{"d":"2023-11-27","s":"OMX Stockholm PI Index","v":12.6},
{"d":"2023-12-05","s":"OMX Stockholm PI Index","v":12.3},{"d":"2023-12-12","s":"OMX Stockholm PI Index","v":12.6},{"d":"2023-12-18","s":"OMX Stockholm PI Index","v":12.3},{"d":"2023-12-25","s":"OMX Stockholm PI Index","v":12.3},{"d":"2023-12-28","s":"OMX Stockholm PI Index","v":11.5},
{"d":"2024-01-01","s":"OMX Stockholm PI Index","v":12.6},{"d":"2024-01-05","s":"OMX Stockholm PI Index","v":13.6},{"d":"2024-01-09","s":"OMX Stockholm PI Index","v":13.9},{"d":"2024-01-14","s":"OMX Stockholm PI Index","v":14.3},{"d":"2024-01-18","s":"OMX Stockholm PI Index","v":14.8},{"d":"2024-01-23","s":"OMX Stockholm PI Index","v":14.3},{"d":"2024-01-27","s":"OMX Stockholm PI Index","v":14.8},
{"d":"2024-02-01","s":"OMX Stockholm PI Index","v":13.9},{"d":"2024-02-03","s":"OMX Stockholm PI Index","v":14.8},{"d":"2024-02-07","s":"OMX Stockholm PI Index","v":15.6},{"d":"2024-02-12","s":"OMX Stockholm PI Index","v":15.2},{"d":"2024-02-16","s":"OMX Stockholm PI Index","v":15.6},{"d":"2024-02-20","s":"OMX Stockholm PI Index","v":15.2},{"d":"2024-02-25","s":"OMX Stockholm PI Index","v":15.9},{"d":"2024-02-29","s":"OMX Stockholm PI Index","v":15.9},
{"d":"2024-03-02","s":"OMX Stockholm PI Index","v":15.6},{"d":"2024-03-06","s":"OMX Stockholm PI Index","v":16.4},{"d":"2024-03-09","s":"OMX Stockholm PI Index","v":15.2},{"d":"2024-03-12","s":"OMX Stockholm PI Index","v":16.4},{"d":"2024-03-16","s":"OMX Stockholm PI Index","v":18},{"d":"2024-03-20","s":"OMX Stockholm PI Index","v":18},{"d":"2024-03-24","s":"OMX Stockholm PI Index","v":17.7},{"d":"2024-03-29","s":"OMX Stockholm PI Index","v":18},{"d":"2024-04-01","s":"OMX Stockholm PI Index","v":18.4}
]},
"layer": [
 {"mark": {"type": "line", "strokeWidth": 2.8, "strokeJoin": "round", "strokeCap": "round"},
  "encoding": {
   "x": {"field": "d", "type": "temporal",
     "scale": {"domain": [{"year": 2023, "month": 4, "date": 1, "utc": true}, {"year": 2024, "month": 4, "date": 1, "utc": true}]},
     "axis": {"orient": "bottom", "title": null, "labels": false, "grid": false, "domain": true, "domainColor": "#9c9c9c", "domainWidth": 2, "ticks": true, "tickSize": -5, "tickColor": "#9c9c9c", "tickWidth": 2,
       "values": [{"year": 2023, "month": 5, "date": 1, "utc": true}, {"year": 2023, "month": 6, "date": 1, "utc": true}, {"year": 2023, "month": 7, "date": 1, "utc": true}, {"year": 2023, "month": 8, "date": 1, "utc": true}, {"year": 2023, "month": 9, "date": 1, "utc": true}, {"year": 2023, "month": 10, "date": 1, "utc": true}, {"year": 2023, "month": 11, "date": 1, "utc": true}, {"year": 2023, "month": 12, "date": 1, "utc": true}, {"year": 2024, "month": 1, "date": 1, "utc": true}, {"year": 2024, "month": 2, "date": 1, "utc": true}, {"year": 2024, "month": 3, "date": 1, "utc": true}]}},
   "y": {"field": "v", "type": "quantitative", "scale": {"domain": [0, 120], "nice": false},
     "axis": {"orient": "left", "title": "SEK", "titleAngle": 0, "titleAlign": "right", "titleBaseline": "middle", "titleX": -8, "titleY": -30,
       "values": [0, 30, 60, 90, 120], "grid": true, "gridColor": "#d2d2d2", "gridWidth": 1.5, "domain": false, "ticks": false, "tickSize": 0, "labelPadding": 8}},
   "color": {"field": "s", "type": "nominal",
     "scale": {"domain": ["Bulten aktiekurs SEK", "Bulten ombaserat mot index OMX SPI", "OMX Stockholm PI Index"], "range": ["#17a89b", "#101b3f", "#c6c6ca"]},
     "legend": {"orient": "none", "legendX": 0, "legendY": 299, "title": null, "padding": 0, "symbolType": "M-1.45,0H1.45", "symbolSize": 324, "symbolStrokeWidth": 4, "labelOffset": 7, "rowPadding": 0, "labelLimit": 0}}
  }},
 {"mark": {"type": "line", "opacity": 0},
  "encoding": {
   "x": {"field": "d", "type": "temporal",
     "axis": {"orient": "bottom", "title": null, "grid": false, "domain": false, "ticks": false, "labelPadding": 13, "labelAlign": "center",
       "labelExpr": "['jan','feb','mars','april','maj','juni','juli','aug','sept','okt','nov','dec'][month(datum.value)]",
       "values": [{"year": 2023, "month": 4, "date": 16, "utc": true}, {"year": 2023, "month": 5, "date": 16, "utc": true}, {"year": 2023, "month": 6, "date": 16, "utc": true}, {"year": 2023, "month": 7, "date": 16, "utc": true}, {"year": 2023, "month": 8, "date": 16, "utc": true}, {"year": 2023, "month": 9, "date": 16, "utc": true}, {"year": 2023, "month": 10, "date": 16, "utc": true}, {"year": 2023, "month": 11, "date": 16, "utc": true}, {"year": 2023, "month": 12, "date": 16, "utc": true}, {"year": 2024, "month": 1, "date": 16, "utc": true}, {"year": 2024, "month": 2, "date": 15, "utc": true}, {"year": 2024, "month": 3, "date": 16, "utc": true}]}},
   "y": {"field": "v", "type": "quantitative",
     "axis": {"orient": "right", "title": "Index", "titleAngle": 0, "titleAlign": "left", "titleBaseline": "middle", "titleX": 2, "titleY": -30,
       "values": [0, 30, 60, 90, 120], "grid": false, "domain": false, "ticks": false, "tickSize": 0, "labelPadding": 9,
       "labelExpr": "datum.value == 0 ? '0' : datum.value == 30 ? '100' : datum.value == 60 ? '200' : datum.value == 90 ? '250' : '300'"}},
   "detail": {"field": "s", "type": "nominal"}
  }}
],
"resolve": {"axis": {"x": "independent", "y": "independent"}}
}
